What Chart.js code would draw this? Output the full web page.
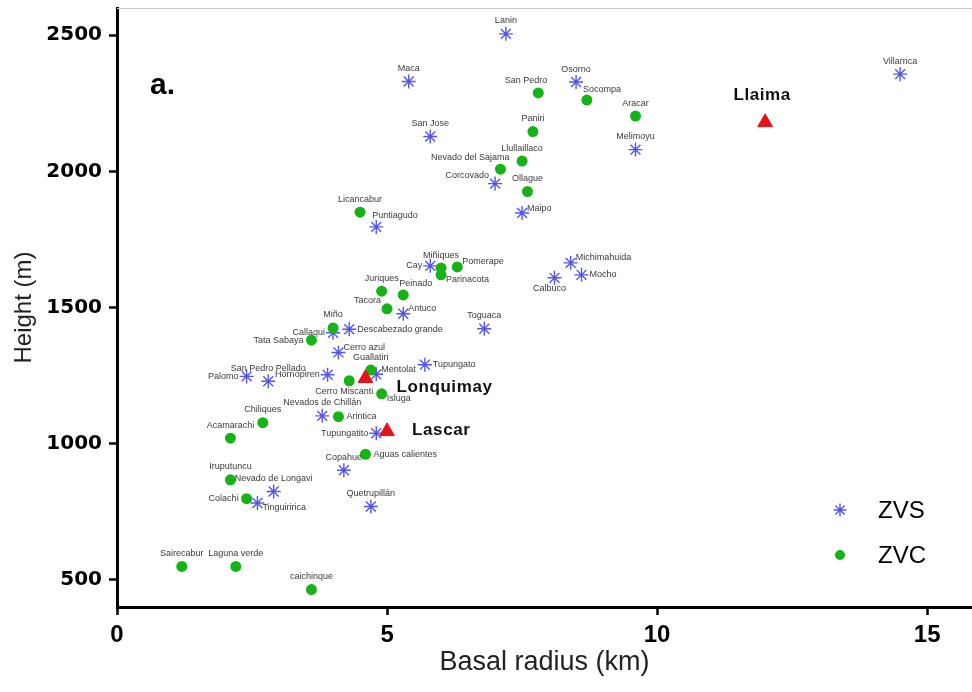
<!DOCTYPE html>
<html>
<head>
<meta charset="utf-8">
<script src="https://cdn.jsdelivr.net/npm/chart.js@4/dist/chart.umd.min.js"></script>
<style>
  html, body { margin: 0; padding: 0; background: #fff; }
  #wrap { width: 972px; height: 692px; position: relative; }
</style>
</head>
<body>
<div id="wrap"><canvas id="c" width="972" height="692"></canvas></div>
<script>
// ---------- DATA ----------
const zvsNames = ['Lanin','Maca','Osorno','Villarrica','San Jose','Melimoyu','Corcovado','Maipo','Puntiagudo','Cay',
  'Michimahuida','Mocho','Calbuco','Antuco','Toguaca','Descabezado grande','Callaqui','Cerro azul','Tupungato','Palomo',
  'San Pedro Pellado','Hornopiren','Mentolat','Nevados de Chillán','Tupungatito','Copahue','Nevado de Longavi','Tinguiririca','Quetrupillán'];
const zvsRadius = [7.2, 5.4, 8.5, 14.5, 5.8, 9.6, 7.0, 7.5, 4.8, 5.8,
  8.4, 8.6, 8.1, 5.3, 6.8, 4.3, 4.0, 4.1, 5.7, 2.4,
  2.8, 3.9, 4.8, 3.8, 4.8, 4.2, 2.9, 2.6, 4.7];
const zvsHeight = [2505, 2330, 2328, 2357, 2128, 2080, 1955, 1847, 1796, 1653,
  1664, 1620, 1609, 1477, 1422, 1420, 1407, 1335, 1290, 1247,
  1229, 1253, 1255, 1102, 1038, 902, 824, 782, 769];

const zvcNames = ['San Pedro','Socompa','Aracar','Paniri','Llullaillaco','Nevado del Sajama','Ollague','Licancabur','Miñiques','Pomerape',
  'Parinacota','Juriques','Peinado','Tacora','Miño','Tata Sabaya','Guallatiri','Cerro Miscanti','Isluga','Arintica',
  'Chiliques','Acamarachi','Aguas calientes','Iruputuncu','Colachi','Sairecabur','Laguna verde','caichinque'];
const zvcRadius = [7.8, 8.7, 9.6, 7.7, 7.5, 7.1, 7.6, 4.5, 6.0, 6.3,
  6.0, 4.9, 5.3, 5.0, 4.0, 3.6, 4.7, 4.3, 4.9, 4.1,
  2.7, 2.1, 4.6, 2.1, 2.4, 1.2, 2.2, 3.6];
const zvcHeight = [2288, 2262, 2203, 2146, 2038, 2008, 1926, 1850, 1645, 1649,
  1620, 1560, 1546, 1495, 1425, 1380, 1270, 1231, 1183, 1099,
  1077, 1020, 961, 867, 798, 549, 549, 464];

const studiedNames = ['Llaima','Lonquimay','Lascar'];
const studiedRadius = [12.0, 4.6, 5.0];
const studiedHeight = [2180, 1240, 1045];

const xTickValues = [0, 5, 10, 15];
const yTickValues = [500, 1000, 1500, 2000, 2500];

// ---------- LABEL LAYOUT (placement codes, not data) ----------
const zvsLabelPlace = ['a','a','a','a','a','a','al','ar','ae','l',
  'ar','r','b','ar','a','r','l','ar','r','l',
  'a','l','ar','a','l','a','a','br','a'];
const zvcLabelPlace = ['aL','ae','a','a','a','aL','a','a','a','ar',
  'br','a','ae','al','a','l','a','b','br','r',
  'a','a','r','a','l','a','a','a'];
const studiedLabelPlace = ['big_above','big_right','big_far'];

const PLACE = {
  a:  [0, -13, 'center'],
  b:  [-5, 11, 'center'],
  r:  [8, 0, 'left'],
  l:  [-8, 0, 'right'],
  ar: [5, -5, 'left'],
  al: [-6, -8, 'right'],
  aL: [9, -12, 'right'],
  br: [5, 5, 'left'],
  ae: [-4, -11, 'left'],
  big_above: [-3, -27, 'center'],
  big_right: [31, 9, 'left'],
  big_far:  [25, -1, 'left']
};

function pts(xs, ys) { return xs.map((x, i) => ({ x: x, y: ys[i] })); }

const labelPlugin = {
  id: 'pointLabels',
  afterDatasetsDraw(chart) {
    const ctx = chart.ctx;
    chart.data.datasets.forEach((ds, di) => {
      const meta = chart.getDatasetMeta(di);
      meta.data.forEach((el, i) => {
        const p = PLACE[ds.labelPlace[i]];
        ctx.save();
        if (ds.bigLabels) {
          ctx.font = 'bold 17px "Liberation Sans", Arial, sans-serif';
          ctx.fillStyle = '#111';
          ctx.letterSpacing = '0.6px';
        } else {
          ctx.font = '9px "Liberation Sans", Arial, sans-serif';
          ctx.fillStyle = '#3a3a3a';
        }
        ctx.textAlign = p[2];
        ctx.textBaseline = 'middle';
        ctx.fillText(ds.names[i], el.x + p[0], el.y + p[1]);
        ctx.restore();
      });
    });
  }
};

const decorPlugin = {
  id: 'decor',
  beforeDraw(chart) {
    const ctx = chart.ctx;
    ctx.save();
    ctx.fillStyle = '#fff';
    ctx.fillRect(0, 0, chart.width, chart.height);
    ctx.restore();
  },
  afterDraw(chart) {
    const ctx = chart.ctx, a = chart.chartArea;
    ctx.save();
    // thin frame top line
    ctx.strokeStyle = '#c8c8c8';
    ctx.lineWidth = 1;
    ctx.beginPath();
    ctx.moveTo(a.left, a.top + 0.5);
    ctx.lineTo(chart.width, a.top + 0.5);
    ctx.stroke();
    // panel letter
    ctx.font = 'bold 30px "Liberation Sans", Arial, sans-serif';
    ctx.fillStyle = '#000';
    ctx.textBaseline = 'middle';
    ctx.textAlign = 'left';
    ctx.fillText('a.', 150, 86);
    // legend
    const items = [chart.data.datasets[1], chart.data.datasets[2]];
    const lx = 840, ly = [510, 555];
    items.forEach((ds, i) => {
      const y = ly[i];
      if (ds.pointStyle === 'star') {
        ctx.strokeStyle = ds.borderColor;
        ctx.lineWidth = 1.4;
        const r = 6.5;
        ctx.beginPath();
        for (let k = 0; k < 4; k++) {
          const ang = k * Math.PI / 4;
          ctx.moveTo(lx - Math.cos(ang) * r, y - Math.sin(ang) * r);
          ctx.lineTo(lx + Math.cos(ang) * r, y + Math.sin(ang) * r);
        }
        ctx.stroke();
      } else {
        ctx.fillStyle = ds.backgroundColor;
        ctx.beginPath();
        ctx.arc(lx, y, 5, 0, Math.PI * 2);
        ctx.fill();
      }
      ctx.fillStyle = '#000';
      ctx.font = '24px "Liberation Sans", Arial, sans-serif';
      ctx.textAlign = 'left';
      ctx.textBaseline = 'middle';
      ctx.fillText(ds.label, 878, y + 1);
    });
    ctx.restore();
  }
};

new Chart(document.getElementById('c'), {
  type: 'scatter',
  data: {
    datasets: [
      {
        label: 'Studied', names: studiedNames, labelPlace: studiedLabelPlace, bigLabels: true,
        data: pts(studiedRadius, studiedHeight),
        pointStyle: 'triangle', pointRadius: 8.5,
        backgroundColor: '#e3131b', borderColor: '#e3131b', borderWidth: 1, order: 0
      },
      {
        label: 'ZVS', names: zvsNames, labelPlace: zvsLabelPlace,
        data: pts(zvsRadius, zvsHeight),
        pointStyle: 'star', pointRadius: 7,
        backgroundColor: 'rgb(85,85,235)', borderColor: 'rgb(85,85,235)', borderWidth: 1.4, order: 2
      },
      {
        label: 'ZVC', names: zvcNames, labelPlace: zvcLabelPlace,
        data: pts(zvcRadius, zvcHeight),
        pointStyle: 'circle', pointRadius: 5.5,
        backgroundColor: '#16b316', borderColor: '#16b316', borderWidth: 0, order: 1
      }
    ]
  },
  options: {
    responsive: false,
    animation: false,
    devicePixelRatio: 1,
    layout: { autoPadding: false, padding: { top: 8, right: 0, left: 0, bottom: 0 } },
    plugins: { legend: { display: false }, tooltip: { enabled: false } },
    scales: {
      x: {
        type: 'linear', min: 0, max: 15.83,
        afterBuildTicks: s => { s.ticks = xTickValues.map(v => ({ value: v })); },
        afterFit: s => { s.height = 85; s.paddingLeft = 0; s.paddingRight = 0; },
        grid: { drawOnChartArea: false, drawTicks: true, tickLength: 8, tickWidth: 2.5, tickColor: '#000' },
        border: { display: true, color: '#000', width: 3 },
        ticks: { padding: 6, color: '#000', callback: v => String(v),
          font: { family: '"Liberation Sans", Arial, sans-serif', weight: 'bold', size: 24 } },
        title: { display: true, text: 'Basal radius (km)', color: '#222',
          font: { family: '"Liberation Sans", Arial, sans-serif', size: 27 }, padding: { top: 0, bottom: 13 } }
      },
      y: {
        type: 'linear', min: 400, max: 2600,
        afterBuildTicks: s => { s.ticks = yTickValues.map(v => ({ value: v })); },
        afterFit: s => { s.width = 117; s.paddingTop = 0; s.paddingBottom = 0; },
        grid: { drawOnChartArea: false, drawTicks: true, tickLength: 8, tickWidth: 2.5, tickColor: '#000' },
        border: { display: true, color: '#000', width: 3 },
        ticks: { padding: 7, color: '#000', callback: v => String(v),
          font: { family: '"DejaVu Sans", sans-serif', weight: 'bold', size: 20 } },
        title: { display: true, text: 'Height (m)', color: '#222',
          font: { family: '"Liberation Sans", Arial, sans-serif', size: 24 }, padding: { top: 10, bottom: 0 } }
      }
    }
  },
  plugins: [decorPlugin, labelPlugin]
});
</script>
</body>
</html>
